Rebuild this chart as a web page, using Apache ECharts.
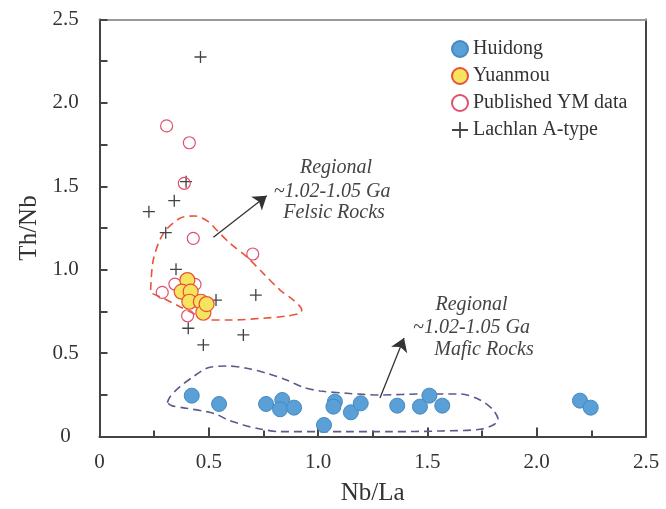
<!DOCTYPE html>
<html>
<head>
<meta charset="utf-8">
<script src="https://cdn.jsdelivr.net/npm/echarts@6/dist/echarts.min.js"></script>
<style>
html,body{margin:0;padding:0;background:#fff}
#chart{width:666px;height:509px}
</style>
</head>
<body>
<div id="chart"></div>
<script>
// Nb/La vs Th/Nb discrimination plot
const huidong = [
  [0.422,0.245],[0.547,0.195],[0.762,0.195],[0.836,0.219],[0.826,0.163],
  [0.890,0.173],[1.027,0.069],[1.077,0.209],[1.070,0.179],[1.150,0.145],
  [1.195,0.199],[1.362,0.185],[1.509,0.245],[1.466,0.179],[1.568,0.185],
  [2.198,0.215],[2.247,0.173]
];
const yuanmou = [
  [0.402,0.938],[0.376,0.868],[0.417,0.868],[0.411,0.808],
  [0.464,0.808],[0.475,0.742],[0.490,0.794]
];
const publishedYM = [
  [0.307,1.862],[0.411,1.761],[0.388,1.518],[0.429,1.188],[0.701,1.094],
  [0.345,0.914],[0.287,0.864],[0.437,0.912],[0.403,0.724]
];
const lachlan = [
  [0.462,2.275],[0.396,1.528],[0.342,1.414],[0.226,1.348],[0.303,1.222],
  [0.350,1.002],[0.533,0.818],[0.715,0.848],[0.406,0.649],[0.658,0.609],
  [0.475,0.549]
];
// field outlines (closed dashed curves)
const felsicField = [
  [0.234,0.878],[0.246,1.058],[0.292,1.218],[0.368,1.308],[0.437,1.322],
  [0.498,1.288],[0.536,1.238],[0.597,1.158],[0.673,1.078],[0.749,0.978],
  [0.826,0.878],[0.887,0.818],[0.925,0.758],[0.917,0.739],[0.856,0.722],
  [0.749,0.709],[0.597,0.698],[0.505,0.698],[0.445,0.728],[0.368,0.778],
  [0.292,0.829],[0.234,0.868],[0.234,0.878]
];
const maficField = [
  [0.310,0.203],[0.323,0.239],[0.368,0.299],[0.429,0.359],[0.475,0.399],
  [0.506,0.415],[0.582,0.423],[0.673,0.409],[0.765,0.379],[0.856,0.339],
  [0.932,0.295],[1.009,0.273],[1.131,0.259],[1.283,0.249],[1.481,0.255],
  [1.649,0.255],[1.741,0.219],[1.801,0.159],[1.824,0.099],[1.801,0.069],
  [1.741,0.043],[1.558,0.033],[1.329,0.029],[1.131,0.029],[0.994,0.029],
  [0.826,0.029],[0.734,0.045],[0.658,0.069],[0.582,0.103],[0.536,0.133],
  [0.490,0.149],[0.399,0.169],[0.330,0.185],[0.310,0.203]
];
const arrows = [
  [[0.521,1.194],[0.765,1.444]],
  [[1.283,0.231],[1.393,0.591]]
];
const notes = [
  {text:'Regional', at:[1.082,1.610]},
  {text:'~1.02-1.05 Ga', at:[1.064,1.469]},
  {text:'Felsic Rocks', at:[1.073,1.340]},
  {text:'Regional', at:[1.702,0.788]},
  {text:'~1.02-1.05 Ga', at:[1.702,0.650]},
  {text:'Mafic Rocks', at:[1.759,0.519]}
];
const xTicks = {min:0, max:2.5, step:0.5};
const yTicks = {min:0, max:2.5, step:0.5};

const FONT = '"Liberation Serif", "DejaVu Serif", serif';
const PLUS = 'path://M4.45,0h1.1v4.45h4.45v1.1h-4.45v4.45h-1.1v-4.45h-4.45v-1.1h4.45z';

const chart = echarts.init(document.getElementById('chart'), null, {renderer:'canvas'});

const tickFmt = v => v === 0 ? '0' : v.toFixed(1);

const option = {
  animation: false,
  backgroundColor: '#fff',
  grid: {left: 99.5, right: 20, top: 19.5, bottom: 72.5, outerBoundsMode: 'none', containLabel: false},
  legend: {
    orient: 'vertical',
    left: 446, top: 34,
    itemWidth: 16, itemHeight: 16, itemGap: 7,
    textStyle: {fontFamily: FONT, fontSize: 20, color: '#333', lineHeight: 20},
    data: ['Huidong','Yuanmou','Published YM data','Lachlan A-type']
  },
  xAxis: [{
    type: 'value', min: xTicks.min, max: xTicks.max, interval: xTicks.step,
    name: 'Nb/La', nameLocation: 'middle', nameGap: 44,
    nameTextStyle: {fontFamily: FONT, fontSize: 25, color: '#333'},
    axisLine: {lineStyle: {color: '#444', width: 2}},
    axisTick: {inside: true, length: 9, lineStyle: {color: '#444', width: 2}},
    minorTick: {show: true, splitNumber: 2, length: 6, lineStyle: {color: '#444', width: 2}},
    axisLabel: {fontFamily: FONT, fontSize: 21, color: '#333', margin: 15, formatter: tickFmt},
    splitLine: {show: false}
  }, {
    type: 'value', position: 'top', min: xTicks.min, max: xTicks.max,
    axisLine: {show: true, onZero: false, lineStyle: {color: '#999', width: 2}},
    axisTick: {show: false}, axisLabel: {show: false}, splitLine: {show: false}
  }],
  yAxis: [{
    type: 'value', min: yTicks.min, max: yTicks.max, interval: yTicks.step,
    name: 'Th/Nb', nameLocation: 'middle', nameGap: 58,
    nameTextStyle: {fontFamily: FONT, fontSize: 25, color: '#333'},
    axisLine: {show: true, lineStyle: {color: '#444', width: 2}},
    axisTick: {show: true, inside: true, length: 8, lineStyle: {color: '#444', width: 2}},
    minorTick: {show: true, splitNumber: 2, length: 8, lineStyle: {color: '#444', width: 2}},
    axisLabel: {fontFamily: FONT, fontSize: 21, color: '#333', margin: 34, align: 'center', formatter: tickFmt},
    splitLine: {show: false}
  }, {
    type: 'value', position: 'right', min: yTicks.min, max: yTicks.max,
    axisLine: {show: true, onZero: false, lineStyle: {color: '#444', width: 2}},
    axisTick: {show: false}, axisLabel: {show: false}, splitLine: {show: false}
  }],
  series: [
    {
      type: 'line', data: felsicField, smooth: 0.3, symbol: 'none', silent: true, z: 1,
      lineStyle: {color: '#e8553a', width: 1.6, type: [8, 5]}
    },
    {
      type: 'line', data: maficField, smooth: 0.3, symbol: 'none', silent: true, z: 1,
      lineStyle: {color: '#5c5a8c', width: 1.6, type: [8, 5]}
    },
    {
      type: 'lines', coordinateSystem: 'cartesian2d', z: 2,
      symbol: ['none', 'arrow'], symbolSize: [0, 13],
      lineStyle: {color: '#333', width: 1.3, opacity: 1},
      data: arrows.map(c => ({coords: c}))
    },
    {
      name: 'Huidong', type: 'scatter', data: huidong, z: 5,
      symbol: 'circle', symbolSize: 15,
      itemStyle: {color: '#5a9fd5', borderColor: '#4589c2', borderWidth: 1, opacity: 1}
    },
    {
      name: 'Yuanmou', type: 'scatter', data: yuanmou, z: 6,
      symbol: 'circle', symbolSize: 15,
      itemStyle: {color: '#f7e45e', borderColor: '#e8503a', borderWidth: 1.2, opacity: 1}
    },
    {
      name: 'Published YM data', type: 'scatter', data: publishedYM, z: 4,
      symbol: 'circle', symbolSize: 12,
      itemStyle: {color: 'rgba(255,255,255,0)', borderColor: '#e0506e', borderWidth: 1.2, opacity: 1}
    },
    {
      name: 'Lachlan A-type', type: 'scatter', data: lachlan, z: 3,
      symbol: PLUS, symbolSize: 12,
      itemStyle: {color: '#444', opacity: 1}
    }
  ]
};
chart.setOption(option);

// annotation text placed in data coordinates
chart.setOption({
  graphic: notes.map(n => {
    const p = chart.convertToPixel({xAxisIndex: 0, yAxisIndex: 0}, n.at);
    return {
      type: 'text', x: p[0], y: p[1], silent: true, z: 10,
      style: {
        text: n.text, fill: '#444', align: 'center', verticalAlign: 'middle',
        font: 'italic 20px ' + FONT
      }
    };
  })
});
</script>
</body>
</html>
